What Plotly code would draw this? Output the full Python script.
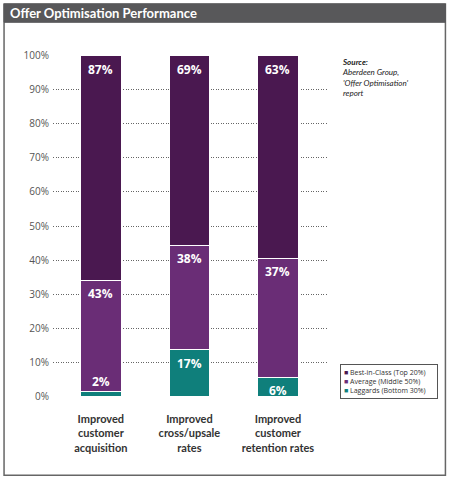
import plotly.graph_objects as go

categories = ["Improved<br>customer<br>acquisition",
              "Improved<br>cross/upsale<br>rates",
              "Improved<br>customer<br>retention rates"]
laggards = [2, 17, 6]
average = [43, 38, 37]
best_in_class = [87, 69, 63]
y_ticks = list(range(0, 101, 10))
y_ticktext = [f"{v}%" for v in y_ticks]

series = [
    ("Laggards (Bottom 30%)", laggards, "#0f7f7b"),
    ("Average (Middle 50%)", average, "#6a2d76"),
    ("Best-in-Class (Top 20%)", best_in_class, "#4a1850"),
]

ticks = [f"<b>{c}</b>" for c in categories]
xs = list(range(len(categories)))

fig = go.Figure()
for name, vals, col in series:
    fig.add_trace(go.Bar(
        x=xs, y=vals, name=name,
        marker=dict(color=col, line=dict(color="white", width=1)),
        width=0.46,
        showlegend=False,
        hovertemplate="%{y}%<extra>" + name + "</extra>"
    ))

# value labels: placed at the top of each (normalised) segment
totals = [sum(s[1][i] for s in series) for i in xs]
annotations = []
for i in xs:
    cum = 0
    for name, vals, col in series:
        seg = vals[i] / totals[i] * 100
        cum += seg
        small = seg < 4
        annotations.append(dict(
            x=i, y=cum, xref="x", yref="y",
            text=f"<b>{vals[i]}%</b>", showarrow=False,
            yanchor="bottom" if small else "top",
            yshift=-1 if small else -3,
            font=dict(family="Open Sans", size=12, color="white")
        ))

annotations.append(dict(
    x=1.044, y=1.0, xref="paper", yref="paper", xanchor="left", yanchor="top",
    align="left", showarrow=False,
    text="<i><b>Source:</b><br>Aberdeen Group,<br>'Offer Optimisation'<br>report</i>",
    font=dict(family="Lato", size=8, color="#222222")
))

legend_text = "<br>".join(
    f"<span style='color:{col}'>■</span> {name}" for name, vals, col in reversed(series)
)
annotations.append(dict(
    x=1.044, y=0.0956, xref="paper", yref="paper", xanchor="left", yanchor="top",
    align="left", showarrow=False, text=legend_text,
    font=dict(family="Open Sans", size=7, color="#333333"),
    bordercolor="#555555", borderwidth=1, borderpad=3, bgcolor="white", width=90
))

annotations.append(dict(
    x=-0.163, y=1.122, xref="paper", yref="paper", xanchor="left", yanchor="middle",
    showarrow=False, text="<b>Offer Optimisation Performance</b>",
    font=dict(family="Lato", size=13, color="white")
))

shapes = [
    dict(type="rect", xref="paper", yref="paper", x0=-0.178, x1=1.427, y0=-0.229, y1=1.149,
         line=dict(color="#666666", width=1.5), fillcolor="rgba(0,0,0,0)", layer="below"),
    dict(type="rect", xref="paper", yref="paper", x0=-0.178, x1=1.427, y0=1.0956, y1=1.149,
         line=dict(color="#58585a", width=1), fillcolor="#58585a", layer="below"),
]

fig.update_layout(
    width=450, height=478,
    barmode="stack", barnorm="percent",
    paper_bgcolor="white", plot_bgcolor="white",
    margin=dict(l=53, r=122, t=55, b=81, autoexpand=False),
    font=dict(family="Open Sans", color="#444444"),
    xaxis=dict(range=[-0.54, 2.565], tickvals=xs, ticktext=ticks, showgrid=False,
               zeroline=False, showline=False, ticks="", ticklabelstandoff=14,
               automargin=False, tickfont=dict(family="Lato", size=11, color="#333333")),
    yaxis=dict(range=[-0.2, 100.2], tickvals=y_ticks, ticktext=y_ticktext,
               showgrid=True, automargin=False,
               gridcolor="#666666", griddash="1px,1.5px", gridwidth=1, zeroline=False,
               ticks="", ticklabelstandoff=3, tickfont=dict(size=10, color="#555555")),
    annotations=annotations,
    shapes=shapes,
)

fig.write_html("out.html", config={"displayModeBar": False},
               post_script="document.body.style.margin='0';")
